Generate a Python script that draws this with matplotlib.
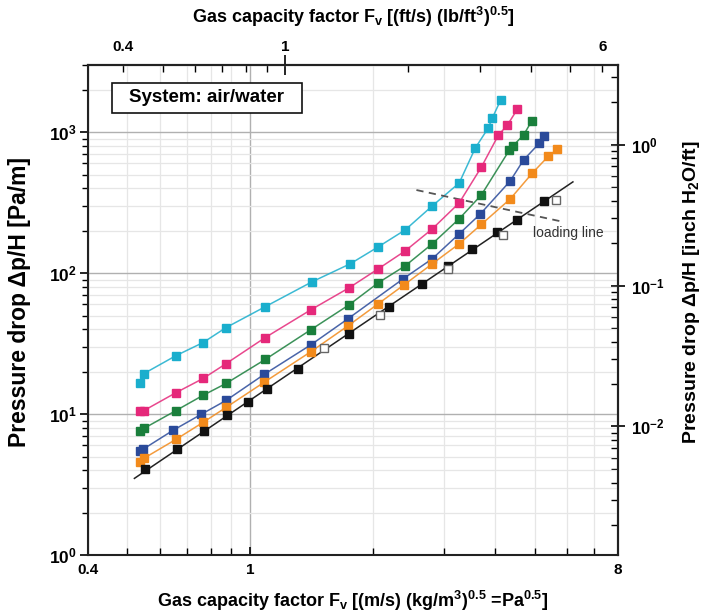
import numpy as np
import matplotlib
matplotlib.use('Agg')
import matplotlib.pyplot as plt
from matplotlib.ticker import FixedLocator, FuncFormatter, NullFormatter
from matplotlib.patches import Rectangle

plt.rcParams['font.family'] = ['Liberation Sans', 'DejaVu Sans']
plt.rcParams['font.weight'] = 'bold'
plt.rcParams['axes.labelweight'] = 'bold'
plt.rcParams['mathtext.fontset'] = 'custom'
plt.rcParams['mathtext.rm'] = 'Liberation Sans:bold'
plt.rcParams['mathtext.it'] = 'Liberation Sans:bold'
plt.rcParams['mathtext.bf'] = 'Liberation Sans:bold'

# 换算系数
PA_PER_INCH = 817.2      # 1 inch H2O/ft = 817.2 Pa/m
FT_FACTOR = 0.8197       # Pa^0.5 -> (ft/s)(lb/ft3)^0.5

# 各液体负荷下的数据 (F-factor, Pa/m)
cyan_x = [0.537, 0.549, 0.658, 0.767, 0.873, 1.089, 1.42, 1.761, 2.064, 2.404, 2.80, 3.26, 3.57, 3.84, 3.93, 4.12]
cyan_y = [16.5, 19.4, 26.0, 32.2, 41.1, 57.8, 86.9, 116.5, 153.8, 202.9, 300, 436, 772, 1069, 1258, 1688]

pink_x = [0.537, 0.549, 0.658, 0.767, 0.873, 1.089, 1.412, 1.751, 2.064, 2.404, 2.80, 3.26, 3.696, 4.069, 4.28, 4.53]
pink_y = [10.45, 10.6, 14.2, 17.9, 22.8, 34.9, 55.1, 78.8, 107.4, 144, 206, 315, 566, 954, 1123, 1457]

green_x = [0.537, 0.549, 0.658, 0.767, 0.873, 1.089, 1.412, 1.751, 2.064, 2.404, 2.80, 3.26, 3.696, 4.33, 4.41, 4.69, 4.91]
green_y = [7.54, 7.92, 10.6, 13.6, 16.5, 24.4, 39.8, 59.7, 85.5, 112.8, 161.5, 243, 359, 747, 797, 954, 1198]

blue_x = [0.537, 0.546, 0.647, 0.758, 0.873, 1.082, 1.412, 1.741, 2.377, 2.80, 3.26, 3.675, 4.35, 4.69, 5.13, 5.28]
blue_y = [5.45, 5.63, 7.67, 9.95, 12.5, 19.1, 31.1, 47.6, 91.3, 126.5, 190, 263, 451, 635, 837, 938]

orange_x = [0.537, 0.549, 0.658, 0.767, 0.873, 1.082, 1.412, 1.741, 2.064, 2.39, 2.80, 3.26, 3.696, 4.35, 4.93, 5.40, 5.68]
orange_y = [4.55, 4.86, 6.62, 8.74, 11.15, 16.8, 27.8, 42.4, 60.7, 82.8, 116.5, 161.5, 222, 336, 513, 677, 759]

# 干填料 (实心) 和 另一组 (空心)
dry_x = [0.552, 0.662, 0.771, 0.878, 0.989, 1.101, 1.312, 1.751, 2.196, 2.646, 3.066, 3.51, 4.045, 4.53, 5.28]
dry_y = [4.06, 5.63, 7.54, 9.79, 12.1, 14.96, 20.9, 36.9, 57.8, 84.1, 112.8, 149, 196, 239, 325]
open_x = [1.52, 2.087, 3.066, 4.18, 5.65]
open_y = [29.2, 50.4, 107.4, 187, 331]

# loading line
load_x = [2.56, 5.88]
load_y = [389, 231]

fig = plt.figure(figsize=(7.13, 6.12), dpi=100)
ax = fig.add_axes([88 / 713, 57 / 612, 530 / 713, 490 / 612])
ax.set_xscale('log')
ax.set_yscale('log')
ax.set_xlim(0.4, 8)
ax.set_ylim(1, 3000)

series = [
    (cyan_x, cyan_y, '#1aaecd'),
    (pink_x, pink_y, '#e5287a'),
    (green_x, green_y, '#1a7f3c'),
    (blue_x, blue_y, '#2a4a9a'),
    (orange_x, orange_y, '#f28a1b'),
]
for xs, ys, c in series:
    ax.plot(xs, ys, '-', color=c, lw=1.1, alpha=0.85, zorder=3)
    ax.plot(xs, ys, 's', color=c, ms=6.3, mec=c, zorder=4)

# 干填料拟合直线
k, b = np.polyfit(np.log10(dry_x), np.log10(dry_y), 1)
fit_x = np.array([0.52, 6.2])
ax.plot(fit_x, 10 ** (k * np.log10(fit_x) + b), color='#222222', lw=1.1, zorder=3)
ax.plot(dry_x, dry_y, 's', color='#111111', ms=6.3, zorder=4)
ax.plot(open_x, open_y, 's', mfc='white', mec='#666666', mew=1.0, ms=6.3, zorder=4)

ax.plot(load_x, load_y, '--', color='#555555', lw=1.3, dashes=(4, 3), zorder=3)
ax.text(4.95, 193, 'loading line', fontsize=10, fontweight='normal', color='#333333', va='center', ha='left')

# 网格
ax.xaxis.set_major_locator(FixedLocator([0.4, 1, 8]))
ax.xaxis.set_minor_locator(FixedLocator([0.5, 0.6, 0.7, 0.8, 0.9, 2, 3, 4, 5, 6, 7]))
ax.xaxis.set_major_formatter(FuncFormatter(lambda v, p: '%g' % v))
ax.xaxis.set_minor_formatter(NullFormatter())
ax.grid(True, which='major', color='#b0b0b0', lw=1.0)
ax.grid(True, which='minor', color='#e6e6e6', lw=0.9)
ax.set_axisbelow(True)

ax.yaxis.set_major_formatter(FuncFormatter(lambda v, p: r'$\mathbf{10^{%d}}$' % round(np.log10(v))))
ax.tick_params(axis='y', which='major', direction='out', length=6, width=1.2, labelsize=12.5, pad=2)
ax.tick_params(axis='y', which='minor', direction='out', length=4, width=1.0)
ax.tick_params(axis='x', which='major', direction='in', length=6, width=1.2, labelsize=11, pad=6)
ax.tick_params(axis='x', which='minor', direction='in', length=5, width=1.0)
ax.tick_params(top=False, right=False)
for s in ax.spines.values():
    s.set_linewidth(1.5)
    s.set_color('#222222')

ax.set_xlabel(r'Gas capacity factor F$_\mathrm{v}$ [(m/s) (kg/m$^3$)$^{0.5}$ =Pa$^{0.5}$]', fontsize=13)
ax.xaxis.set_label_coords(0.5, -0.069)
ax.set_ylabel('Pressure drop Δp/H [Pa/m]', fontsize=16.5)
ax.yaxis.set_label_coords(-0.108, 0.516)

# 上轴: 英制
top = ax.secondary_xaxis('top', functions=(lambda x: x * FT_FACTOR, lambda x: x / FT_FACTOR))
top.xaxis.set_major_locator(FixedLocator([1]))
top.xaxis.set_minor_locator(FixedLocator([0.4, 0.5, 0.6, 0.7, 0.8, 0.9, 2, 3, 4, 5, 6]))
top.xaxis.set_major_formatter(FuncFormatter(lambda v, p: '%g' % v))
top.xaxis.set_minor_formatter(FuncFormatter(
    lambda v, p: '%g' % v if np.isclose(v, 0.4) or np.isclose(v, 6) else ''))
top.tick_params(which='major', direction='inout', length=14, width=1.2, labelsize=11, pad=1)
top.tick_params(which='minor', direction='in', length=5, width=1.0, labelsize=11, pad=8)
top.spines['top'].set_linewidth(1.5)
top.set_xlabel(r'Gas capacity factor F$_\mathrm{v}$ [(ft/s) (lb/ft$^3$)$^{0.5}$]', fontsize=13)
top.xaxis.set_label_coords(0.5, 1.086, transform=ax.transAxes)

# 右轴: inch H2O/ft
right = ax.secondary_yaxis('right', functions=(lambda y: y / PA_PER_INCH, lambda y: y * PA_PER_INCH))
right.yaxis.set_major_locator(FixedLocator([1e-2, 1e-1, 1e0]))
right.yaxis.set_minor_locator(FixedLocator([m * 10.0 ** e for e in (-3, -2, -1, 0) for m in range(2, 10)]))
right.yaxis.set_major_formatter(FuncFormatter(lambda v, p: r'$\mathbf{10^{%d}}$' % round(np.log10(v))))
right.yaxis.set_minor_formatter(NullFormatter())
right.tick_params(which='major', direction='inout', length=10, width=1.2, labelsize=12, pad=4)
right.tick_params(which='minor', direction='in', length=5, width=1.0)
right.spines['right'].set_linewidth(1.5)
right.set_ylabel('Pressure drop Δp/H [inch H$_2$O/ft]', fontsize=14)
right.yaxis.set_label_coords(1.119, 0.537, transform=ax.transAxes)

# System 标注框
ax.add_patch(Rectangle((0.045, 0.902), 0.359, 0.061, transform=ax.transAxes,
                       facecolor='white', edgecolor='#111111', lw=1.2, zorder=5))
ax.text(0.2245, 0.933, 'System: air/water', transform=ax.transAxes, fontsize=13.5,
        ha='center', va='center', zorder=6)

fig.savefig('out.png', dpi=100)
plt.close()
